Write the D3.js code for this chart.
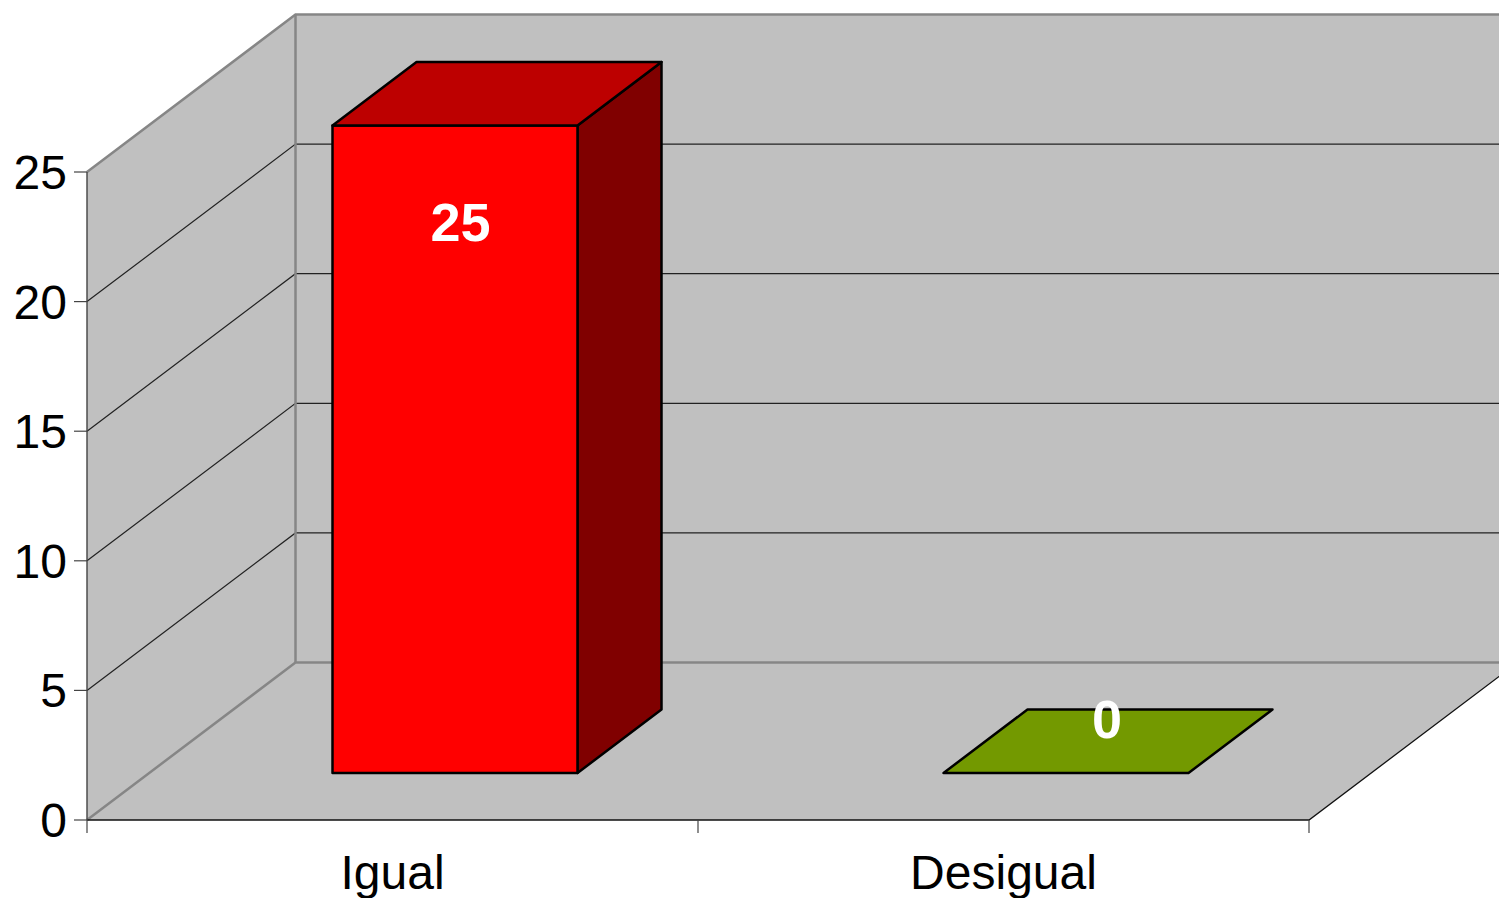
<!DOCTYPE html>
<html>
<head>
<meta charset="utf-8">
<script src="https://cdn.jsdelivr.net/npm/d3@7"></script>
<style>
  html, body { margin: 0; padding: 0; background: #fff; overflow: hidden; }
  text { font-family: "Liberation Sans", Arial, sans-serif; }
</style>
</head>
<body>
<div id="chart"></div>
<script>
const categories = ["Igual", "Desigual"];
const values = [25, 0];
const barColors = [
  { front: "#ff0000", top: "#bd0000", side: "#800000" },
  { front: "#739900", top: "#739900", side: "#4d6600" }
];
const yTicks = [0, 5, 10, 15, 20, 25];

const width = 1499, height = 898;

// the 3d box: front floor edge and how far the depth shifts things
const depthX = 208.5, depthY = -157.5;
const barDepthX = 84, barDepthY = -63.5;

const svg = d3.select("#chart").append("svg")
  .attr("width", width)
  .attr("height", height)
  .style("display", "block");

const xBand = d3.scaleBand().domain(categories).range([87, 1309]);
const y = d3.scaleLinear().domain([0, 25]).range([820, 172]);
const line = d3.line();
const wallGray = "#c0c0c0", edgeGray = "#868686";

const x0 = xBand.range()[0], x1 = xBand.range()[1];
const backX = x0 + depthX;
const floorY = y(0);
const rightEdge = width + 5;

// back wall, runs off the right side of the page
svg.append("path")
  .attr("d", line([[backX, y(25) + depthY], [rightEdge, y(25) + depthY], [rightEdge, floorY + depthY], [backX, floorY + depthY]]) + "Z")
  .attr("fill", wallGray);

// left wall
svg.append("path")
  .attr("d", line([[x0, y(25)], [backX, y(25) + depthY], [backX, floorY + depthY], [x0, floorY]]) + "Z")
  .attr("fill", wallGray);

// floor
svg.append("path")
  .attr("d", line([[x0, floorY], [backX, floorY + depthY], [rightEdge, floorY + depthY], [rightEdge, floorY + (rightEdge - x1) * depthY / depthX], [x1, floorY]]) + "Z")
  .attr("fill", wallGray);

// gridlines on both walls
yTicks.filter(d => d > 0 && d < 25).forEach(d => {
  svg.append("path")
    .attr("d", line([[x0, y(d)], [backX, y(d) + depthY], [rightEdge, y(d) + depthY]]))
    .attr("fill", "none").attr("stroke", "#222").attr("stroke-width", 1.2);
});

// grey frame of the box
[
  [[x0, y(25)], [backX, y(25) + depthY], [rightEdge, y(25) + depthY]],
  [[backX, y(25) + depthY], [backX, floorY + depthY]],
  [[x0, floorY], [backX, floorY + depthY], [rightEdge, floorY + depthY]]
].forEach(pts => {
  svg.append("path").attr("d", line(pts))
    .attr("fill", "none").attr("stroke", edgeGray).attr("stroke-width", 2.5);
});

// floor front and right edge
svg.append("path")
  .attr("d", line([[x0, floorY], [x1, floorY], [rightEdge, floorY + (rightEdge - x1) * depthY / depthX]]))
  .attr("fill", "none").attr("stroke", "#111").attr("stroke-width", 1.3);

// axes
svg.append("path").attr("d", line([[x0, y(25)], [x0, floorY]]))
  .attr("stroke", "#444").attr("stroke-width", 1.4).attr("fill", "none");
yTicks.forEach(d => {
  svg.append("path").attr("d", line([[x0 - 13, y(d)], [x0, y(d)]]))
    .attr("stroke", "#444").attr("stroke-width", 1.2);
});

svg.selectAll(".y-label").data(yTicks).enter().append("text")
  .attr("class", "y-label")
  .attr("x", x0 - 20)
  .attr("y", d => y(d) + 17)
  .attr("text-anchor", "end")
  .attr("font-size", 48)
  .attr("fill", "#000")
  .text(d => d);

// x ticks at band edges
[x0, x0 + xBand.bandwidth(), x1].forEach(xt => {
  svg.append("path").attr("d", line([[xt, floorY], [xt, floorY + 13]]))
    .attr("stroke", "#444").attr("stroke-width", 1.2);
});

svg.selectAll(".x-label").data(categories).enter().append("text")
  .attr("class", "x-label")
  .attr("x", d => xBand(d) + xBand.bandwidth() / 2)
  .attr("y", 889)
  .attr("text-anchor", "middle")
  .attr("font-size", 48)
  .attr("fill", "#000")
  .text(d => d);

// bars sit part of the way into the depth of the box
const barWidth = 245, barBase = 773, liftX = 62.5;
const barY = d3.scaleLinear().domain([0, 25]).range([barBase, 125.5]);

categories.forEach((c, i) => {
  const left = xBand(c) + (xBand.bandwidth() - barWidth) / 2 + liftX;
  const right = left + barWidth;
  const top = barY(values[i]);
  const col = barColors[i];
  const g = svg.append("g").attr("stroke", "#000").attr("stroke-width", 2.5).attr("stroke-linejoin", "round");
  if (values[i] > 0) {
    g.append("path")
      .attr("d", line([[right, barBase], [right + barDepthX, barBase + barDepthY], [right + barDepthX, top + barDepthY], [right, top]]) + "Z")
      .attr("fill", col.side);
    g.append("rect")
      .attr("x", left).attr("y", top).attr("width", barWidth).attr("height", barBase - top)
      .attr("fill", col.front);
  }
  g.append("path")
    .attr("d", line([[left, top], [left + barDepthX, top + barDepthY], [right + barDepthX, top + barDepthY], [right, top]]) + "Z")
    .attr("fill", col.top);
});

// value labels
const labelX = [460.5, 1107];
const labelY = [241, 738];
svg.selectAll(".val").data(values).enter().append("text")
  .attr("class", "val")
  .attr("x", (d, i) => labelX[i])
  .attr("y", (d, i) => labelY[i])
  .attr("text-anchor", "middle")
  .attr("font-size", 54)
  .attr("font-weight", "bold")
  .attr("fill", "#fff")
  .text(d => d);
</script>
</body>
</html>
